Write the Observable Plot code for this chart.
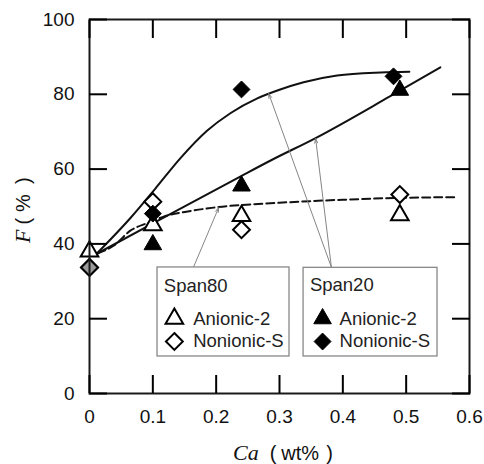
<!DOCTYPE html>
<html><head><meta charset="utf-8">
<script src="https://cdn.jsdelivr.net/npm/d3@7"></script>
<script src="https://cdn.jsdelivr.net/npm/@observablehq/plot@0.6"></script>
<style>body{margin:0;background:#fff}</style>
</head><body><div id="chart"></div>
<script>
// ---- data ----
const xTicks = [0, 0.1, 0.2, 0.3, 0.4, 0.5, 0.6];
const yTicks = [0, 20, 40, 60, 80, 100];
const xTickLabels = ["0", "0.1", "0.2", "0.3", "0.4", "0.5", "0.6"];
const yTickLabels = ["0", "20", "40", "60", "80", "100"];

// measured points [Ca (wt%), F (%)]
const span80Anionic  = [[0, 38], [0.1, 45], [0.24, 47.5], [0.49, 47.7]];
const span80Nonionic = [[0, 33.7], [0.1, 51.3], [0.24, 43.8], [0.49, 53.2]];
const span20Anionic  = [[0.1, 39.8], [0.24, 55.5], [0.49, 81.1]];
const span20Nonionic = [[0.1, 48.1], [0.24, 81.3], [0.48, 84.8]];
const controlPoint   = [[0, 33.7]]; // shared blank (grey diamond)

// fitted curves
const fitSpan20Nonionic = [[0.012, 37.5], [0.065, 47], [0.104, 54.8], [0.144, 63], [0.186, 70.3], [0.223, 75], [0.265, 78.9], [0.3, 81.2], [0.338, 83.2], [0.391, 85], [0.46, 85.8], [0.505, 86]];
const fitSpan20Anionic  = [[0.013, 37.5], [0.117, 47], [0.238, 58], [0.286, 62.3], [0.357, 68.3], [0.475, 79.5], [0.554, 87.2]];
const fitSpan80         = [[0.013, 37.5], [0.038, 39.5], [0.065, 43.6], [0.092, 45.6], [0.117, 47.3], [0.16, 48.8], [0.196, 49.7], [0.3, 51], [0.4, 51.8], [0.49, 52.3], [0.58, 52.5]];

// leader arrows from legend boxes to curves
const leaders = [
  {x1: 0.164, y1: 33.7, x2: 0.204, y2: 49.7},
  {x1: 0.382, y1: 33.7, x2: 0.283, y2: 80.2},
  {x1: 0.382, y1: 33.7, x2: 0.357, y2: 68.2}
];

// legend layout
const legendBoxes = [
  {x1: 0.1074, x2: 0.3158, y1: 9.9, y2: 33.7},
  {x1: 0.338, x2: 0.5495, y1: 9.9, y2: 33.6}
];
const legendTitles = [
  {x: 0.1174, y: 28.6, text: "Span80"},
  {x: 0.348, y: 28.9, text: "Span20"}
];
const legendItems = [
  {sx: 0.134, tx: 0.1637, y: 20.0, text: "Anionic-2", symbol: "triangle2", filled: false},
  {sx: 0.134, tx: 0.1637, y: 13.9, text: "Nonionic-S", symbol: "diamond2", filled: false},
  {sx: 0.368, tx: 0.3948, y: 20.0, text: "Anionic-2", symbol: "triangle2", filled: true},
  {sx: 0.368, tx: 0.3948, y: 13.9, text: "Nonionic-S", symbol: "diamond2", filled: true}
];

// ---- layout ----
const W = 484, H = 464;
const mL = 89, mR = 15, mT = 19, mB = 71;
const plotW = W - mL - mR, plotH = H - mT - mB;
const xDomain = [0, 0.6], yDomain = [0, 100];
const tickLen = 18;
const fontSans = "'Liberation Sans', Arial, Helvetica, sans-serif";
const fontSerif = "'Liberation Serif', 'Times New Roman', serif";
const triR = 8.4, diaR = 7.6;
const px = d => d[0], py = d => d[1];
const pick = (items, sym, filled) => items.filter(d => d.symbol === sym && d.filled === filled);
const tickStyle = {stroke: "#000", strokeWidth: 2, fill: "#111", fontSize: 19, label: null};
const noText = () => "";

const chart = Plot.plot({
  width: W, height: H,
  marginLeft: mL, marginRight: mR, marginTop: mT, marginBottom: mB,
  style: {fontFamily: fontSans, fontSize: "19px"},
  x: {domain: xDomain},
  y: {domain: yDomain},
  marks: [
    // fitted curves
    Plot.line(fitSpan20Nonionic, {x: px, y: py, curve: "monotone-x", stroke: "#111", strokeWidth: 2}),
    Plot.line(fitSpan20Anionic, {x: px, y: py, curve: "monotone-x", stroke: "#111", strokeWidth: 2}),
    Plot.line(fitSpan80, {x: px, y: py, curve: "monotone-x", stroke: "#111", strokeWidth: 2, strokeDasharray: "8,4"}),
    // leaders
    Plot.arrow(leaders, {x1: "x1", y1: "y1", x2: "x2", y2: "y2", stroke: "#777", strokeWidth: 0.9, headLength: 8, headAngle: 36}),
    // legend boxes
    Plot.rect(legendBoxes, {x1: "x1", x2: "x2", y1: "y1", y2: "y2", fill: "#fff", stroke: "#888", strokeWidth: 1.3}),
    Plot.text(legendTitles, {x: "x", y: "y", text: "text", textAnchor: "start", fontSize: 18.5, fill: "#222"}),
    Plot.text(legendItems, {x: "tx", y: "y", text: "text", textAnchor: "start", fontSize: 18.5, fill: "#222"}),
    Plot.dot(pick(legendItems, "triangle2", false), {x: "sx", y: "y", symbol: "triangle2", r: triR, fill: "#fff", stroke: "#000", strokeWidth: 2}),
    Plot.dot(pick(legendItems, "diamond2", false), {x: "sx", y: "y", symbol: "diamond2", r: diaR, fill: "#fff", stroke: "#000", strokeWidth: 2}),
    Plot.dot(pick(legendItems, "triangle2", true), {x: "sx", y: "y", symbol: "triangle2", r: triR, fill: "#000", stroke: "#000", strokeWidth: 1}),
    Plot.dot(pick(legendItems, "diamond2", true), {x: "sx", y: "y", symbol: "diamond2", r: diaR, fill: "#000", stroke: "#000", strokeWidth: 1}),
    // measured points
    Plot.dot(span80Anionic, {x: px, y: py, symbol: "triangle2", r: triR, fill: "#fff", stroke: "#000", strokeWidth: 2}),
    Plot.dot(span80Nonionic, {x: px, y: py, symbol: "diamond2", r: diaR, fill: "#fff", stroke: "#000", strokeWidth: 2}),
    Plot.dot(span20Anionic, {x: px, y: py, symbol: "triangle2", r: triR, fill: "#000", stroke: "#000", strokeWidth: 1}),
    Plot.dot(span20Nonionic, {x: px, y: py, symbol: "diamond2", r: diaR, fill: "#000", stroke: "#000", strokeWidth: 1}),
    Plot.dot(controlPoint, {x: px, y: py, symbol: "diamond2", r: diaR, fill: "#9a9a9a", stroke: "#000", strokeWidth: 2}),
    Plot.frame({stroke: "#1a1a1a", strokeWidth: 2}),
    // axes with inward ticks (negative tick size) on all four sides, drawn last
    Plot.axisX({anchor: "bottom", ticks: xTicks, tickSize: -tickLen, tickPadding: tickLen + 16, tickFormat: (d, i) => xTickLabels[i], ...tickStyle}),
    Plot.axisY({anchor: "left", ticks: yTicks, tickSize: -tickLen, tickPadding: tickLen + 15, tickFormat: (d, i) => yTickLabels[i], ...tickStyle}),
    Plot.axisX({anchor: "top", ticks: xTicks, tickSize: -tickLen, tickFormat: noText, ...tickStyle}),
    Plot.axisY({anchor: "right", ticks: yTicks, tickSize: -tickLen, tickFormat: noText, ...tickStyle})
  ]
});

document.getElementById("chart").appendChild(chart);

// axis titles with mixed italic serif / sans runs
const svg = d3.select(chart);
const xl = svg.append("text")
  .attr("x", mL + plotW / 2 - 46).attr("y", H - 4)
  .attr("text-anchor", "start").attr("fill", "#111").attr("font-family", fontSans).attr("font-size", 20);
xl.append("tspan").attr("font-family", fontSerif).attr("font-style", "italic").attr("font-size", 22).text("Ca");
xl.append("tspan").attr("dx", 11).text("(");
xl.append("tspan").attr("dx", 5).text("wt%");
xl.append("tspan").attr("dx", 7).text(")");

const yl = svg.append("text")
  .attr("transform", `translate(30,${mT + plotH / 2 + 37}) rotate(-90)`)
  .attr("text-anchor", "start").attr("fill", "#111").attr("font-family", fontSans).attr("font-size", 20);
yl.append("tspan").attr("font-family", fontSerif).attr("font-style", "italic").attr("font-size", 22).text("F");
yl.append("tspan").attr("dx", 5).text("(");
yl.append("tspan").attr("dx", 6).text("%");
yl.append("tspan").attr("dx", 10).text(")");
</script>
</body></html>
